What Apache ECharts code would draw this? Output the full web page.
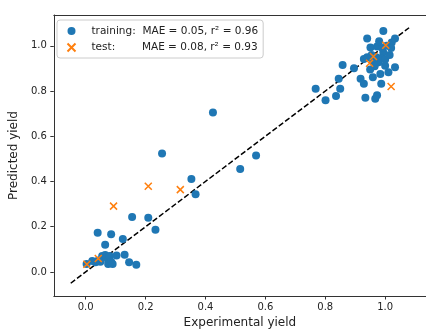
<!DOCTYPE html>
<html>
<head>
<meta charset="utf-8">
<script src="https://cdn.jsdelivr.net/npm/echarts@6/dist/echarts.min.js"></script>
<style>html,body{margin:0;padding:0;background:#fff;}#c{width:426px;height:334px;}</style>
</head>
<body>
<div id="c"></div>
<script>
const trainingName = 'training:  MAE = 0.05, r\u00b2 = 0.96';
const testName = 'test:        MAE = 0.08, r\u00b2 = 0.93';
const xTitle = 'Experimental yield';
const yTitle = 'Predicted yield';
const tickValues = [0.0, 0.2, 0.4, 0.6, 0.8, 1.0];
const axisMin = -0.1065;
const axisMax = 1.1365;
const parityLine = [[-0.05, -0.05], [1.08, 1.08]];

const trainingPoints = [
  [0.003,0.035],[0.022,0.048],[0.033,0.043],[0.042,0.05],[0.049,0.045],[0.055,0.07],
  [0.065,0.075],[0.07,0.065],[0.075,0.05],[0.075,0.035],[0.08,0.07],[0.085,0.045],
  [0.09,0.035],[0.065,0.12],[0.04,0.173],[0.085,0.167],[0.103,0.073],[0.124,0.146],
  [0.13,0.076],[0.145,0.043],[0.169,0.032],[0.155,0.243],[0.209,0.24],[0.233,0.187],
  [0.255,0.524],[0.353,0.411],[0.367,0.344],[0.425,0.705],[0.516,0.455],[0.569,0.515],
  [0.768,0.81],[0.801,0.759],[0.836,0.778],[0.85,0.81],[0.845,0.854],[0.858,0.915],
  [0.896,0.901],[0.918,0.854],[0.929,0.832],[0.934,0.77],[0.967,0.766],[0.973,0.781],
  [0.959,0.861],[0.984,0.876],[0.987,0.832],[1.011,0.883],[1.033,0.905],[1.0,0.912],
  [0.978,0.927],[0.929,0.942],[0.94,0.95],[0.951,0.993],[0.973,0.997],[0.994,0.971],
  [1.022,1.015],[1.033,1.032],[0.94,1.032],[0.994,1.066],[0.96,0.93],[0.97,0.95],
  [0.985,0.945],[1.0,0.94],[0.99,0.99],[1.005,1.0],[1.02,0.99],[0.965,0.91],
  [0.95,0.895],[1.015,0.96],[0.955,0.96],[0.98,1.02]
];
const testPoints = [
  [0.004,0.034],[0.042,0.059],[0.093,0.291],[0.209,0.379],[0.316,0.364],
  [0.948,0.923],[0.961,0.953],[1.002,1.003],[1.02,0.82]
];

const font = 'DejaVu Sans';
const chart = echarts.init(document.getElementById('c'), null, {renderer: 'canvas'});
const fmt = v => Number(v).toFixed(1);
chart.setOption({
  animation: false,
  backgroundColor: '#fff',
  textStyle: {fontFamily: font},
  grid: {left: 53, top: 15, bottom: 35, right: -6, containLabel: false},
  legend: {
    orient: 'vertical', left: 57, top: 20,
    padding: [5, 5, 4, 8],
    itemWidth: 30, itemHeight: 8, itemGap: 4,
    backgroundColor: 'rgba(255,255,255,0.8)',
    borderColor: '#cccccc', borderWidth: 1, borderRadius: 3,
    textStyle: {fontFamily: font, fontSize: 10.5, color: '#222', lineHeight: 12},
    data: [trainingName, testName]
  },
  xAxis: [{
    type: 'value', min: axisMin, max: axisMax,
    name: xTitle, nameLocation: 'middle', nameGap: 21,
    nameTextStyle: {fontFamily: font, fontSize: 12, color: '#222'},
    splitLine: {show: false},
    axisLine: {show: true, onZero: false, lineStyle: {color: '#333', width: 1}},
    axisTick: {show: true, length: 3.5, customValues: tickValues, lineStyle: {color: '#333'}},
    axisLabel: {customValues: tickValues, formatter: fmt, fontSize: 10, color: '#222', margin: 6, fontFamily: font}
  }, {
    type: 'value', min: axisMin, max: axisMax, position: 'top',
    splitLine: {show: false}, axisTick: {show: false}, axisLabel: {show: false},
    axisLine: {show: true, onZero: false, lineStyle: {color: '#333', width: 1}}
  }],
  yAxis: {
    type: 'value', min: axisMin, max: axisMax,
    name: yTitle, nameLocation: 'middle', nameGap: 29,
    nameTextStyle: {fontFamily: font, fontSize: 12, color: '#222'},
    splitLine: {show: false},
    axisLine: {show: true, onZero: false, lineStyle: {color: '#333', width: 1}},
    axisTick: {show: true, length: 3.5, customValues: tickValues, lineStyle: {color: '#333'}},
    axisLabel: {customValues: tickValues, formatter: fmt, fontSize: 10, color: '#222', margin: 7, fontFamily: font}
  },
  series: [{
    type: 'line', data: parityLine, symbol: 'none', silent: true, z: 1,
    lineStyle: {color: '#000', width: 1.5, type: [5.5, 2.4]}
  }, {
    name: trainingName, type: 'scatter', data: trainingPoints, symbol: 'circle', symbolSize: 8, z: 2,
    itemStyle: {color: '#1f77b4', opacity: 1}
  }, {
    name: testName, type: 'scatter', data: testPoints, z: 3,
    symbol: 'path://M0,0L10,10M10,0L0,10', symbolSize: 7, symbolKeepAspect: true,
    itemStyle: {color: 'none', borderColor: '#ff7f0e', borderWidth: 1.5, opacity: 1}
  }]
});
</script>
</body>
</html>
